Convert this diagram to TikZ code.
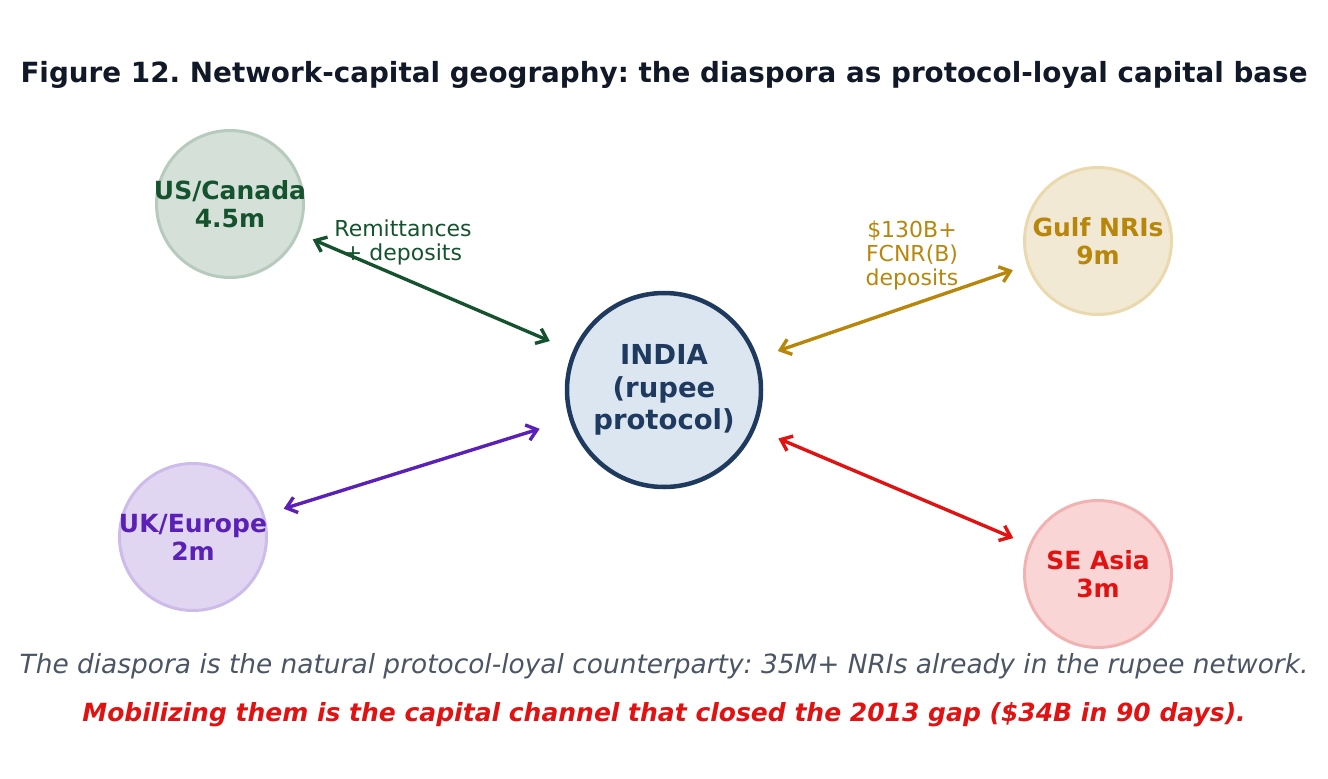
\documentclass[tikz,border=0pt]{standalone}
\usepackage{fontspec}
\setmainfont{DejaVu Sans}
\usetikzlibrary{arrows.meta}
\frenchspacing

\definecolor{titleink}{RGB}{17,24,39}
\definecolor{notegray}{RGB}{75,85,99}
\definecolor{indiablue}{RGB}{31,58,95}
\definecolor{indiafill}{RGB}{220,230,240}
\definecolor{usgreen}{RGB}{20,83,45}
\definecolor{usfill}{RGB}{212,224,216}
\definecolor{usline}{RGB}{182,203,189}
\definecolor{gulfgold}{RGB}{184,134,11}
\definecolor{gulffill}{RGB}{241,233,212}
\definecolor{gulfline}{RGB}{233,217,172}
\definecolor{ukpurple}{RGB}{91,33,182}
\definecolor{ukfill}{RGB}{224,214,241}
\definecolor{ukline}{RGB}{205,187,234}
\definecolor{seared}{RGB}{225,18,18}
\definecolor{seafill}{RGB}{249,213,213}
\definecolor{sealine}{RGB}{243,178,178}

\begin{document}
\begin{tikzpicture}[x=1pt,y=-1pt,
    region/.style={circle,minimum size=147pt,inner sep=0pt,line width=3pt},
    regiontext/.style={align=center,font=\bfseries\fontsize{25}{28}\selectfont},
    flow/.style={line width=3.4pt,{Straight Barb[length=10pt,width=16pt]}-{Straight Barb[length=10pt,width=16pt]}},
    flowlabel/.style={align=center,font=\fontsize{22}{24}\selectfont}]
    \useasboundingbox (0,0) rectangle (1328,779);

    \node[font=\bfseries\fontsize{27.8}{34}\selectfont,text=titleink] (title) at (664,75){Figure 12. Network-capital geography: the diaspora as protocol-loyal capital base};

    % centre
    \node[circle,minimum size=194pt,inner sep=0pt,line width=4.5pt,draw=indiablue,fill=indiafill,
      text=indiablue,align=center,font=\bfseries\fontsize{27.5}{32.5}\selectfont] (india) at (664,390){INDIA\\(rupee\\protocol)};

    % diaspora regions
    \node[region,draw=usline,fill=usfill,label={[regiontext,text=usgreen]center:US/Canada\\4.5m}] (us) at (230,204){};
    \node[region,draw=gulfline,fill=gulffill,label={[regiontext,text=gulfgold]center:Gulf NRIs\\9m}] (gulf) at (1098,241){};
    \node[region,draw=ukline,fill=ukfill,label={[regiontext,text=ukpurple]center:UK/Europe\\2m}] (uk) at (193,537){};
    \node[region,draw=sealine,fill=seafill,label={[regiontext,text=seared]center:SE Asia\\3m}] (sea) at (1098,574){};

    \draw[flow,usgreen,shorten <=15pt,shorten >=25pt] (us) -- (india);
    \draw[flow,gulfgold,shorten <=21pt,shorten >=15pt] (india) -- (gulf);
    \draw[flow,ukpurple,shorten <=20pt,shorten >=31pt] (uk) -- (india);
    \draw[flow,seared,shorten <=25pt,shorten >=17pt] (india) -- (sea);

    \node[flowlabel,text=usgreen] (remit) at (403,242){Remittances\\+ deposits};
    \node[flowlabel,text=gulfgold] (fcnr) at (912,255){\$130B+\\FCNR(B)\\deposits};

    % notes
    \node[font=\itshape\fontsize{26.4}{30}\selectfont,text=notegray] (note) at (664,666){The diaspora is the natural protocol-loyal counterparty: 35M+ NRIs already in the rupee network.};
    \node[font=\bfseries\itshape\fontsize{25}{30}\selectfont,text=seared] (punch) at (664,715){Mobilizing them is the capital channel that closed the 2013 gap (\$34B in 90 days).};
\end{tikzpicture}
\end{document}
